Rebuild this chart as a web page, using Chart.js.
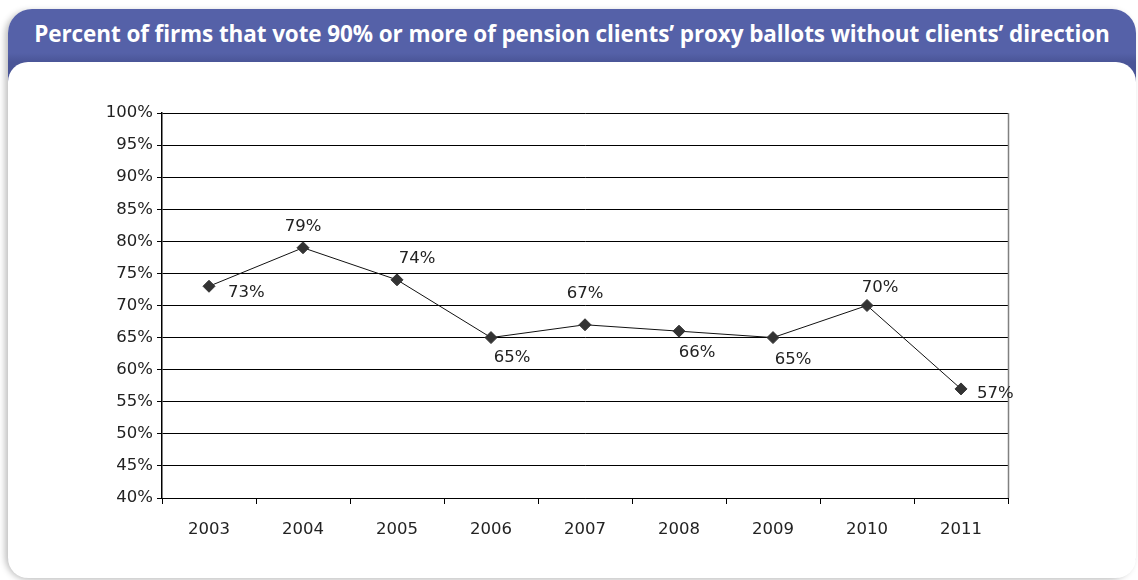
<!DOCTYPE html>
<html>
<head>
<meta charset="utf-8">
<script src="https://cdn.jsdelivr.net/npm/chart.js@4.4.1/dist/chart.umd.min.js"></script>
<style>
  html, body { margin: 0; padding: 0; background: #fff; }
  body { width: 1138px; height: 580px; position: relative; overflow: hidden; }
  .card {
    position: absolute; left: 8px; top: 9px; width: 1128px; height: 569px;
    border-radius: 24px;
    background: linear-gradient(#5561a8 0, #5561a8 44px, #4a5597 53px);
    box-shadow: -3px 2px 6px rgba(0, 0, 0, 0.25);
  }
  .title {
    position: absolute; left: 0; top: 0; width: 100%; height: 53px;
    line-height: 50px; text-align: center; color: #fff;
    font-family: "Open Sans", sans-serif; font-weight: 700; font-size: 22.5px;
    letter-spacing: -0.1px;
  }
  .panel {
    position: absolute; left: 0; top: 53px; width: 1128px; height: 516px;
    border-radius: 20px; background: #fff;
  }
  #chart { position: absolute; left: 0; top: 0; }
</style>
</head>
<body>
<div class="card">
  <div class="title">Percent of firms that vote 90% or more of pension clients’ proxy ballots without clients’ direction</div>
  <div class="panel"></div>
</div>
<canvas id="chart" width="1138" height="580"></canvas>
<script>
// years and share of firms voting 90%+ of ballots on their own
const years = ['2003', '2004', '2005', '2006', '2007', '2008', '2009', '2010', '2011'];
const percents = [73, 79, 74, 65, 67, 66, 65, 70, 57];
const yTicks = [40, 45, 50, 55, 60, 65, 70, 75, 80, 85, 90, 95, 100];

// where each value label sits relative to its point: [dx, dy, align]
const labelOffsets = [
    [19, 6, 'left'],
    [0, -21, 'center'],
    [20, -21, 'center'],
    [21, 20, 'center'],
    [0, -31, 'center'],
    [18, 22, 'center'],
    [20, 22, 'center'],
    [13, -18, 'center'],
    [16, 5, 'left']
];

const FONT = '"DejaVu Sans", sans-serif';

// draws the value labels and the right edge of the plot frame
const valueLabels = {
    id: 'valueLabels',
    afterDatasetsDraw(chart) {
        const { ctx, chartArea } = chart;
        ctx.save();
        ctx.strokeStyle = '#808080';
        ctx.lineWidth = 1.5;
        ctx.beginPath();
        ctx.moveTo(Math.round(chartArea.right) + 0.5, chartArea.top);
        ctx.lineTo(Math.round(chartArea.right) + 0.5, chartArea.bottom);
        ctx.stroke();

        const meta = chart.getDatasetMeta(0);
        ctx.fillStyle = '#222';
        ctx.font = '16.5px ' + FONT;
        ctx.textBaseline = 'middle';
        meta.data.forEach((pt, i) => {
            const [dx, dy, align] = labelOffsets[i];
            ctx.textAlign = align;
            ctx.fillText(percents[i] + '%', pt.x + dx, pt.y + dy);
        });
        ctx.restore();
    }
};

new Chart(document.querySelector('#chart'), {
    type: 'line',
    data: {
        labels: years,
        datasets: [
            {
                data: percents,
                borderColor: '#111',
                borderWidth: 1,
                tension: 0,
                pointStyle: 'rectRot',
                pointRadius: 6,
                pointBackgroundColor: '#333',
                pointBorderColor: '#333',
                pointBorderWidth: 1
            }
        ]
    },
    plugins: [valueLabels],
    options: {
        responsive: false,
        animation: false,
        layout: {
            padding: { left: 0, top: 113, right: 130, bottom: 0 }
        },
        scales: {
            x: {
                offset: true,
                grid: {
                    offset: true,
                    drawOnChartArea: false,
                    drawTicks: true,
                    tickLength: 6,
                    color: '#000'
                },
                border: { color: '#000', width: 1 },
                ticks: {
                    color: '#222',
                    padding: 16,
                    font: { family: FONT, size: 16.5 },
                    maxRotation: 0,
                    autoSkip: false
                },
                afterFit: function (scale) {
                    scale.height = 82;
                }
            },
            y: {
                min: 40,
                max: 100,
                afterBuildTicks: function (scale) {
                    scale.ticks = yTicks.map(v => ({ value: v }));
                },
                grid: {
                    color: '#000',
                    lineWidth: 1,
                    tickLength: 5
                },
                border: { color: '#000', width: 1.5 },
                ticks: {
                    color: '#222',
                    padding: 4,
                    font: { family: FONT, size: 16.5 },
                    callback: function (value) {
                        return value + '%';
                    }
                },
                afterFit: function (scale) {
                    scale.width = 162;
                }
            }
        },
        plugins: {
            legend: { display: false },
            tooltip: { enabled: false }
        }
    }
});
</script>
</body>
</html>
